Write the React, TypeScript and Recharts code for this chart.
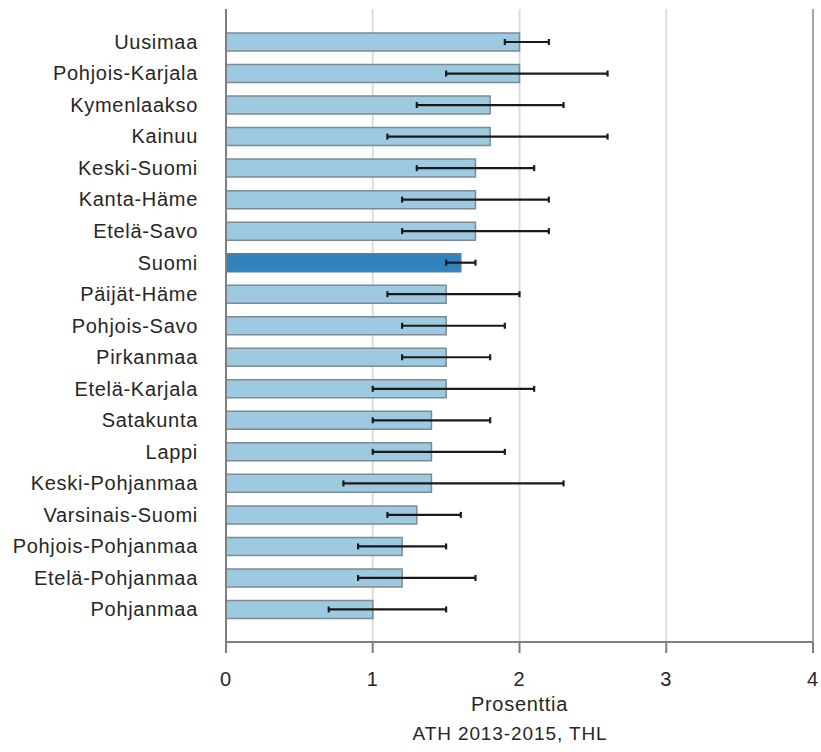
import React from "react";
import { BarChart, Bar, XAxis, YAxis, CartesianGrid, ErrorBar, ReferenceLine, Cell } from "recharts";

// Maakunnat, osuus (%) ja luottamusvälit
const regions = [
  "Uusimaa", "Pohjois-Karjala", "Kymenlaakso", "Kainuu", "Keski-Suomi", "Kanta-Häme",
  "Etelä-Savo", "Suomi", "Päijät-Häme", "Pohjois-Savo", "Pirkanmaa", "Etelä-Karjala",
  "Satakunta", "Lappi", "Keski-Pohjanmaa", "Varsinais-Suomi", "Pohjois-Pohjanmaa",
  "Etelä-Pohjanmaa", "Pohjanmaa",
];
const values = [2.0, 2.0, 1.8, 1.8, 1.7, 1.7, 1.7, 1.6, 1.5, 1.5, 1.5, 1.5, 1.4, 1.4, 1.4, 1.3, 1.2, 1.2, 1.0];
const lows = [1.9, 1.5, 1.3, 1.1, 1.3, 1.2, 1.2, 1.5, 1.1, 1.2, 1.2, 1.0, 1.0, 1.0, 0.8, 1.1, 0.9, 0.9, 0.7];
const highs = [2.2, 2.6, 2.3, 2.6, 2.1, 2.2, 2.2, 1.7, 2.0, 1.9, 1.8, 2.1, 1.8, 1.9, 2.3, 1.6, 1.5, 1.7, 1.5];
const xTicks = [0, 1, 2, 3, 4];

const data = regions.map((name, i) => ({
  name,
  value: values[i],
  err: [+(values[i] - lows[i]).toFixed(2), +(highs[i] - values[i]).toFixed(2)],
}));

const font = "'Liberation Sans', Arial, sans-serif";
const textStyle = { fontFamily: font, fontSize: 20, fill: "#262626", letterSpacing: 0.7 };

export default function App() {
  return (
    <div style={{ position: "absolute", left: 0, top: 0, width: 821, height: 752, background: "#fff" }}>
      <BarChart
        width={821}
        height={752}
        data={data}
        layout="vertical"
        margin={{ top: 9, right: 8, bottom: 0, left: 0 }}
        barSize={18}
      >
        <CartesianGrid horizontal={false} stroke="#dcdcdc" strokeWidth={2} />
        <XAxis
          type="number"
          domain={[0, 4]}
          ticks={xTicks}
          interval={0}
          height={110}
          tickSize={11}
          tickMargin={19}
          axisLine={{ stroke: "#7f7f7f", strokeWidth: 2 }}
          tickLine={{ stroke: "#7f7f7f", strokeWidth: 2 }}
          tick={textStyle}
          label={{ value: "Prosenttia", position: "insideTop", offset: 55, style: textStyle }}
        />
        <XAxis
          xAxisId="top"
          orientation="top"
          type="number"
          domain={[0, 4]}
          height={0}
          tick={false}
          tickLine={false}
          axisLine={{ stroke: "#b0b0b0", strokeWidth: 2 }}
        />
        <YAxis
          type="category"
          dataKey="name"
          width={226}
          interval={0}
          padding={{ top: 17, bottom: 17 }}
          tickLine={false}
          tickMargin={22}
          axisLine={{ stroke: "#7f7f7f", strokeWidth: 2 }}
          tick={textStyle}
        />
        <ReferenceLine x={4} stroke="#a6a6a6" strokeWidth={2} />
        <Bar dataKey="value" fill="#9ecae1" stroke="#7d8a91" strokeWidth={1.5} isAnimationActive={false}>
          {data.map((d) => (
            <Cell key={d.name} fill={d.name === "Suomi" ? "#3182bd" : "#9ecae1"} stroke={d.name === "Suomi" ? "#5a7f99" : "#7d8a91"} />
          ))}
          <ErrorBar dataKey="err" direction="x" width={3} stroke="#1a1a1a" strokeWidth={2.2} isAnimationActive={false} />
        </Bar>
      </BarChart>
      <div
        style={{
          position: "absolute",
          left: 0,
          width: 1020,
          top: 724,
          textAlign: "center",
          fontFamily: font,
          fontSize: 19,
          lineHeight: "19px",
          letterSpacing: 0.9,
          color: "#262626",
        }}
      >
        ATH 2013-2015, THL
      </div>
    </div>
  );
}
